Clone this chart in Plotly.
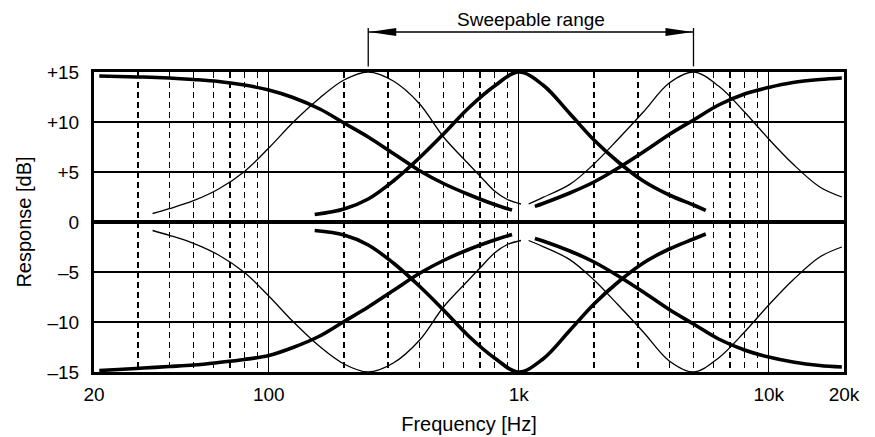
import numpy as np
import plotly.graph_objects as go

# ---------------- axes ----------------
x_tick_vals = [20, 100, 1000, 10000, 20000]
x_tick_text = ["20", "100", "1k", "10k", "20k"]
x_minor_vals = [30, 40, 50, 60, 70, 80, 90,
                200, 300, 400, 500, 600, 700, 800, 900,
                2000, 3000, 4000, 5000, 6000, 7000, 8000, 9000]
y_tick_vals = [-15, -10, -5, 0, 5, 10, 15]
y_tick_text = ["–15", "–10", "–5", "0", "+5", "+10", "+15"]
sweep_range = [250, 5000]
sweep_label = "Sweepable range"

# ---------------- curves ----------------
# thick low shelf
low_shelf_f = [21, 25, 31.5, 40, 50, 63, 80, 100, 125, 160, 200, 250, 315, 400,
               500, 630, 800, 940]
low_shelf_boost = [14.6, 14.55, 14.5, 14.4, 14.25, 14.05, 13.7, 13.2, 12.45, 11.3,
                   9.9, 8.5, 6.85, 5.15, 3.85, 2.75, 1.75, 1.2]
low_shelf_cut = [-14.85, -14.75, -14.6, -14.45, -14.3, -14.05, -13.75, -13.35,
                 -12.55, -11.4, -9.95, -8.5, -6.85, -5.15, -3.85, -2.75, -1.8, -1.25]

# thin bell centred near 250 Hz
bell_250_f = [34.3, 40, 50, 63, 80, 100, 125, 160, 200, 250, 315, 400, 500, 630,
              700, 800, 900, 1021]
bell_250_boost = [0.85, 1.33, 2.13, 3.3, 5.06, 7.4, 9.95, 12.4, 14.2, 15.0, 14.1,
                  11.85, 8.5, 5.8, 4.6, 3.1, 2.25, 1.8]
bell_250_cut = [-0.85, -1.33, -2.13, -3.3, -5.06, -7.4, -9.95, -12.45, -14.2, -15.0,
                -14.1, -11.85, -8.5, -5.8, -4.6, -3.1, -2.25, -1.85]

# thick bell centred at 1 kHz
bell_1k_f = [152.7, 200, 250, 315, 400, 500, 630, 800, 1000, 1250, 1600, 2000, 2500,
             3150, 4000, 5000, 5600]
bell_1k_boost = [0.75, 1.3, 2.3, 4.1, 6.4, 8.8, 11.4, 13.6, 15.0, 13.7, 10.85, 8.2,
                 6.0, 4.1, 2.7, 1.7, 1.16]
bell_1k_cut = [-0.85, -1.3, -2.3, -4.1, -6.4, -8.8, -11.4, -13.6, -15.0, -13.7,
               -10.85, -8.2, -6.0, -4.1, -2.7, -1.7, -1.2]

# thin bell centred near 5 kHz
bell_5k_f = [1095, 1250, 1600, 2000, 2500, 3150, 4000, 5000, 6300, 8000, 10000,
             12500, 16000, 19600]
bell_5k_boost = [1.8, 2.46, 3.76, 5.8, 8.3, 11.0, 13.9, 15.0, 13.6, 11.0, 8.3, 5.8,
                 3.5, 2.5]
bell_5k_cut = [-1.85, -2.46, -3.76, -5.8, -8.3, -11.0, -13.9, -15.0, -13.6, -11.0,
               -8.3, -5.8, -3.5, -2.5]

# thick high shelf
high_shelf_f = [1160, 1250, 1600, 2000, 2500, 3150, 4000, 5000, 6300, 8000, 10000,
                12500, 16000, 19600]
high_shelf_boost = [1.56, 1.85, 2.9, 4.0, 5.4, 7.0, 8.75, 10.2, 11.7, 12.8, 13.46,
                    13.95, 14.25, 14.4]
high_shelf_cut = [-1.65, -1.9, -2.9, -4.0, -5.4, -7.0, -8.75, -10.2, -11.7, -12.8,
                  -13.5, -14.0, -14.35, -14.5]

THICK = 3.6
THIN = 1.3

curves = [
    ("Low shelf boost", low_shelf_f, low_shelf_boost, THICK),
    ("Low shelf cut", low_shelf_f, low_shelf_cut, THICK),
    ("Bell 250 Hz boost", bell_250_f, bell_250_boost, THIN),
    ("Bell 250 Hz cut", bell_250_f, bell_250_cut, THIN),
    ("Bell 1 kHz boost", bell_1k_f, bell_1k_boost, THICK),
    ("Bell 1 kHz cut", bell_1k_f, bell_1k_cut, THICK),
    ("Bell 5 kHz boost", bell_5k_f, bell_5k_boost, THIN),
    ("Bell 5 kHz cut", bell_5k_f, bell_5k_cut, THIN),
    ("High shelf boost", high_shelf_f, high_shelf_boost, THICK),
    ("High shelf cut", high_shelf_f, high_shelf_cut, THICK),
]

fig = go.Figure()
for name, f, g, w in curves:
    fig.add_trace(go.Scatter(
        x=f, y=g, name=name, mode="lines",
        line=dict(color="black", width=w, shape="spline", smoothing=1.0),
        hoverinfo="skip", showlegend=False,
    ))

FONT = "Liberation Sans, Arial, sans-serif"

fig.update_xaxes(
    type="log",
    range=[np.log10(x_tick_vals[0]), np.log10(x_tick_vals[-1])],
    tickmode="array", tickvals=x_tick_vals, ticktext=x_tick_text,
    ticks="", showgrid=True, gridcolor="black", gridwidth=1.4,
    minor=dict(tickmode="array", tickvals=x_minor_vals, showgrid=True,
               gridcolor="black", gridwidth=1.4, griddash="6px,4px", ticks=""),
    showline=True, mirror=True, linecolor="black", linewidth=3,
    zeroline=False,
    tickfont=dict(family=FONT, size=19, color="black"),
    ticklabelstandoff=3,
    title=dict(text="Frequency [Hz]", font=dict(family=FONT, size=20, color="black"),
               standoff=14),
)
fig.update_yaxes(
    range=[y_tick_vals[0], y_tick_vals[-1]],
    tickmode="array", tickvals=y_tick_vals, ticktext=y_tick_text,
    ticks="", showgrid=True, gridcolor="black", gridwidth=1.4,
    zeroline=True, zerolinecolor="black", zerolinewidth=3.5,
    showline=True, mirror=True, linecolor="black", linewidth=3,
    tickfont=dict(family=FONT, size=19, color="black"),
    ticklabelstandoff=8,
    title=dict(text="Response [dB]", font=dict(family=FONT, size=20, color="black"),
               standoff=10),
)

# ---- sweepable range marker ----
arrow_y = 1.1333
line_style = dict(color="black", width=1.3)
fig.add_shape(type="line", xref="x", yref="paper", x0=sweep_range[0], x1=sweep_range[1],
              y0=arrow_y, y1=arrow_y, line=line_style)
for xv in sweep_range:
    fig.add_shape(type="line", xref="x", yref="paper", x0=xv, x1=xv,
                  y0=1.0187, y1=1.1467, line=line_style)
fig.add_shape(type="path", xref="x", yref="paper", xsizemode="pixel", ysizemode="pixel",
              xanchor=sweep_range[0], yanchor=arrow_y,
              path="M 1,0 L 28,4 L 28,-4 Z", fillcolor="black", line=dict(width=0))
fig.add_shape(type="path", xref="x", yref="paper", xsizemode="pixel", ysizemode="pixel",
              xanchor=sweep_range[1], yanchor=arrow_y,
              path="M -1,0 L -28,4 L -28,-4 Z", fillcolor="black", line=dict(width=0))
fig.add_annotation(xref="x", yref="paper",
                   x=np.log10(np.sqrt(sweep_range[0] * sweep_range[1])), y=1.176,
                   text=sweep_label, showarrow=False, xanchor="center", yanchor="middle",
                   font=dict(family=FONT, size=19, color="black"))

fig.update_layout(
    width=875, height=437,
    margin=dict(l=94, r=31, t=72, b=65, autoexpand=False),
    paper_bgcolor="white", plot_bgcolor="white",
    hovermode=False,
    font=dict(family=FONT, color="black"),
)

fig.write_html("out.html",
               config={"displayModeBar": False, "staticPlot": True},
               post_script="document.body.style.margin='0';"
                           "document.body.style.overflow='hidden';")
